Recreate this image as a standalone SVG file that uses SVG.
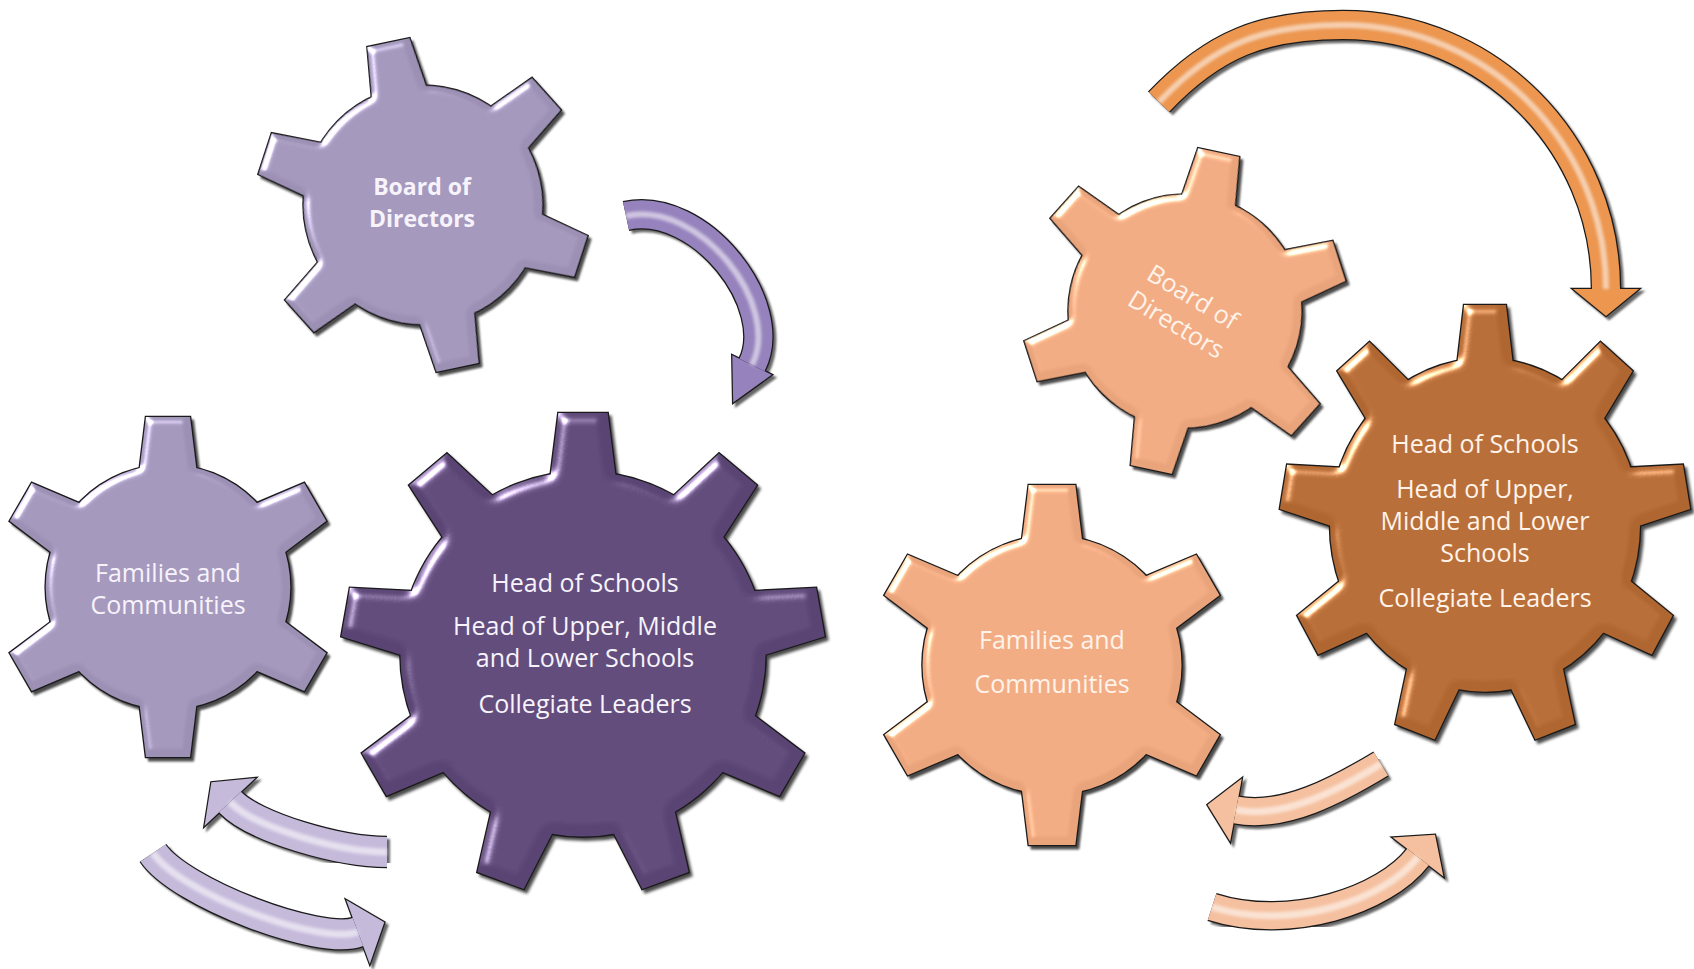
<svg xmlns="http://www.w3.org/2000/svg" width="1694" height="969" viewBox="0 0 1694 969">
  <style>
    text { font-family: "Open Sans", "Noto Sans", "DejaVu Sans", sans-serif; text-anchor: middle; font-size: 25px; }
    .lbl-p { fill: #F7F3FB; }
    .lbl-o { fill: #FFF3EA; }
    .bold { font-weight: 700; font-size: 23px; }
    .g-sh { fill: #000; stroke: #000; stroke-width: 2; opacity: .7; }
    .g-edge { fill: #1a1a1a; stroke: #1a1a1a; stroke-width: 2.6; }
    .g-lilac { fill: #9D90B5; stroke: none; }
    .g-plum { fill: #5A4474; stroke: none; }
    .g-peach { fill: #EAA47C; stroke: none; }
    .g-copper { fill: #B06630; stroke: none; }
    .a-sh { fill: #000; stroke: #000; opacity: .6; }
    .a-edge { fill: #1a1a1a; stroke: #1a1a1a; }
    .a-violet { fill: #9682BD; stroke: #9682BD; }
    .a-mist { fill: #C6BADB; stroke: #C6BADB; }
    .a-amber { fill: #EC9650; stroke: #EC9650; }
    .a-blush { fill: #F5C09F; stroke: #F5C09F; }
    .a-glint { fill: none; stroke: #fff; opacity: .55; }
  </style>
  <defs>
    <filter id="bevel" x="-8%" y="-8%" width="116%" height="116%" color-interpolation-filters="sRGB">
      <feGaussianBlur in="SourceAlpha" stdDeviation="3" result="blur"/>
      <feSpecularLighting in="blur" surfaceScale="3.5" specularConstant="1.1" specularExponent="28" lighting-color="#ffffff" result="spec">
        <feDistantLight azimuth="225" elevation="35"/>
      </feSpecularLighting>
      <feComposite in="spec" in2="SourceAlpha" operator="in" result="specIn"/>
      <feComposite in="SourceGraphic" in2="specIn" operator="arithmetic" k1="0" k2="1" k3="0.9" k4="0"/>
    </filter>
    <filter id="soft" filterUnits="userSpaceOnUse" x="0" y="0" width="1694" height="969">
      <feGaussianBlur stdDeviation="1.5"/>
    </filter>
    <filter id="haze" x="-10%" y="-10%" width="120%" height="120%">
      <feGaussianBlur stdDeviation="1"/>
    </filter>

    <!-- six-tooth gear, body radius 100 -->
    <path id="tooth6" vector-effect="non-scaling-stroke" d="M-23.5 -94 L-18 -139 L18 -139 L23.5 -94 Z"/>
    <g id="gear6">
      <circle r="100" vector-effect="non-scaling-stroke"/>
      <use href="#tooth6"/>
      <use href="#tooth6" transform="rotate(60)"/>
      <use href="#tooth6" transform="rotate(120)"/>
      <use href="#tooth6" transform="rotate(180)"/>
      <use href="#tooth6" transform="rotate(240)"/>
      <use href="#tooth6" transform="rotate(300)"/>
    </g>

    <!-- nine-tooth gear, body radius 100 -->
    <path id="tooth9" vector-effect="non-scaling-stroke" d="M-18 -96 L-13.5 -132 L13.5 -132 L18 -96 Z"/>
    <g id="gear9">
      <circle r="100" vector-effect="non-scaling-stroke"/>
      <use href="#tooth9"/>
      <use href="#tooth9" transform="rotate(40)"/>
      <use href="#tooth9" transform="rotate(80)"/>
      <use href="#tooth9" transform="rotate(120)"/>
      <use href="#tooth9" transform="rotate(160)"/>
      <use href="#tooth9" transform="rotate(200)"/>
      <use href="#tooth9" transform="rotate(240)"/>
      <use href="#tooth9" transform="rotate(280)"/>
      <use href="#tooth9" transform="rotate(320)"/>
    </g>

    <!-- curved block arrows: centre line of the shaft + arrow head -->
    <path id="pA" fill="none" d="M626 216 C700 200 782 305 752 365"/>
    <polygon id="hA" points="771.7,374.8 733.2,402.5 732.3,355.2"/>
    <path id="pB" fill="none" d="M387 852 C340 852 254 827.5 230 802"/>
    <polygon id="hB" points="255.5,778 211.4,782.3 204.5,826"/>
    <path id="pC" fill="none" d="M153 853 C180 893 320 946 358 932"/>
    <polygon id="hC" points="369.8,963.9 384.3,922.3 346.2,900.1"/>
    <path id="pD" fill="none" d="M1159 102 C1214 44 1263 25 1343 25 C1488 25 1606 143 1606 289"/>
    <polygon id="hD" points="1573,289 1606,316 1639,289"/>
    <path id="pE" fill="none" d="M1381 764 C1338 790 1285 819 1236 810"/>
    <polygon id="hE" points="1241.8,778.5 1207.5,804.8 1230.2,841.5"/>
    <path id="pF" fill="none" d="M1212 907 C1290 932 1385 900 1418 857"/>
    <polygon id="hF" points="1443.4,876.5 1435,834.8 1392.6,837.5"/>
  </defs>

  <rect width="1694" height="969" fill="#ffffff"/>

  <!-- left cluster -->
  <g id="node-board-left" transform="translate(423 205)">
    <use href="#gear6" class="g-sh" filter="url(#haze)" transform="translate(3 3.5) rotate(-12) scale(1.194)"/>
    <use href="#gear6" class="g-edge" transform="rotate(-12) scale(1.194)"/>
    <use href="#gear6" class="g-lilac" filter="url(#bevel)" transform="rotate(-12) scale(1.194)"/>
    <text class="lbl-p bold" x="-1" y="-10">Board of</text>
    <text class="lbl-p bold" x="-1" y="22">Directors</text>
  </g>

  <g id="node-families-left" transform="translate(168 587)">
    <use href="#gear6" class="g-sh" filter="url(#haze)" transform="translate(3 3.5) scale(1.223)"/>
    <use href="#gear6" class="g-edge" transform="scale(1.223)"/>
    <use href="#gear6" class="g-lilac" filter="url(#bevel)" transform="scale(1.223)"/>
    <text class="lbl-p" x="0" y="-5">Families and</text>
    <text class="lbl-p" x="0" y="27">Communities</text>
  </g>

  <g id="node-heads-left" transform="translate(583 654)">
    <use href="#gear9" class="g-sh" filter="url(#haze)" transform="translate(3 3.5) scale(1.826)"/>
    <use href="#gear9" class="g-edge" transform="scale(1.826)"/>
    <use href="#gear9" class="g-plum" filter="url(#bevel)" transform="scale(1.826)"/>
    <text class="lbl-p" x="2" y="-62">Head of Schools</text>
    <text class="lbl-p" x="2" y="-19">Head of Upper, Middle</text>
    <text class="lbl-p" x="2" y="13">and Lower Schools</text>
    <text class="lbl-p" x="2" y="59">Collegiate Leaders</text>
  </g>

  <!-- right cluster -->
  <g id="node-board-right" transform="translate(1185 311)">
    <use href="#gear6" class="g-sh" filter="url(#haze)" transform="translate(3 3.5) rotate(12) scale(1.165)"/>
    <use href="#gear6" class="g-edge" transform="rotate(12) scale(1.165)"/>
    <use href="#gear6" class="g-peach" filter="url(#bevel)" transform="rotate(12) scale(1.165)"/>
    <g transform="translate(-2 2) rotate(31)">
      <text class="lbl-o" x="0" y="-10">Board of</text>
      <text class="lbl-o" x="0" y="22">Directors</text>
    </g>
  </g>

  <g id="node-families-right" transform="translate(1052 665)">
    <use href="#gear6" class="g-sh" filter="url(#haze)" transform="translate(3 3.5) scale(1.295)"/>
    <use href="#gear6" class="g-edge" transform="scale(1.295)"/>
    <use href="#gear6" class="g-peach" filter="url(#bevel)" transform="scale(1.295)"/>
    <text class="lbl-o" x="0" y="-16">Families and</text>
    <text class="lbl-o" x="0" y="28">Communities</text>
  </g>

  <g id="node-heads-right" transform="translate(1485 525)">
    <use href="#gear9" class="g-sh" filter="url(#haze)" transform="translate(3 3.5) scale(1.55 1.667)"/>
    <use href="#gear9" class="g-edge" transform="scale(1.55 1.667)"/>
    <use href="#gear9" class="g-copper" filter="url(#bevel)" transform="scale(1.55 1.667)"/>
    <text class="lbl-o" x="0" y="-72">Head of Schools</text>
    <text class="lbl-o" x="0" y="-27">Head of Upper,</text>
    <text class="lbl-o" x="0" y="5">Middle and Lower</text>
    <text class="lbl-o" x="0" y="37">Schools</text>
    <text class="lbl-o" x="0" y="82">Collegiate Leaders</text>
  </g>

  <!-- connectors -->
  <g id="connectors">
    <g id="arrow-board-to-heads-left">
      <g class="a-sh" transform="translate(3 3)" filter="url(#haze)">
        <use href="#pA" stroke-width="30"/><use href="#hA" stroke-width="2.5"/>
      </g>
      <g class="a-edge"><use href="#pA" stroke-width="30.5"/><use href="#hA" stroke-width="2.5"/></g>
      <g class="a-violet"><use href="#pA" stroke-width="28"/><use href="#hA" stroke="none"/></g>
      <use href="#pA" class="a-glint" stroke-width="6" filter="url(#soft)"/>
    </g>

    <g id="arrow-heads-to-families-left">
      <g class="a-sh" transform="translate(3 3)" filter="url(#haze)">
        <use href="#pB" stroke-width="32"/><use href="#hB" stroke-width="2.5"/>
      </g>
      <g class="a-edge"><use href="#pB" stroke-width="32.5"/><use href="#hB" stroke-width="2.5"/></g>
      <g class="a-mist"><use href="#pB" stroke-width="30"/><use href="#hB" stroke="none"/></g>
      <use href="#pB" class="a-glint" stroke-width="7" filter="url(#soft)"/>
    </g>

    <g id="arrow-families-to-heads-left">
      <g class="a-sh" transform="translate(3 3)" filter="url(#haze)">
        <use href="#pC" stroke-width="32"/><use href="#hC" stroke-width="2.5"/>
      </g>
      <g class="a-edge"><use href="#pC" stroke-width="32.5"/><use href="#hC" stroke-width="2.5"/></g>
      <g class="a-mist"><use href="#pC" stroke-width="30"/><use href="#hC" stroke="none"/></g>
      <use href="#pC" class="a-glint" stroke-width="7" filter="url(#soft)"/>
    </g>

    <g id="arrow-board-to-heads-right">
      <g class="a-sh" transform="translate(3 3)" filter="url(#haze)">
        <use href="#pD" stroke-width="30"/><use href="#hD" stroke-width="2.5"/>
      </g>
      <g class="a-edge"><use href="#pD" stroke-width="30.5"/><use href="#hD" stroke-width="2.5"/></g>
      <g class="a-amber"><use href="#pD" stroke-width="28"/><use href="#hD" stroke="none"/></g>
      <use href="#pD" class="a-glint" stroke-width="6" filter="url(#soft)"/>
    </g>

    <g id="arrow-heads-to-families-right">
      <g class="a-sh" transform="translate(3 3)" filter="url(#haze)">
        <use href="#pE" stroke-width="29"/><use href="#hE" stroke-width="2.5"/>
      </g>
      <g class="a-edge"><use href="#pE" stroke-width="29.5"/><use href="#hE" stroke-width="2.5"/></g>
      <g class="a-blush"><use href="#pE" stroke-width="27"/><use href="#hE" stroke="none"/></g>
      <use href="#pE" class="a-glint" stroke-width="7" filter="url(#soft)"/>
    </g>

    <g id="arrow-families-to-heads-right">
      <g class="a-sh" transform="translate(3 3)" filter="url(#haze)">
        <use href="#pF" stroke-width="29"/><use href="#hF" stroke-width="2.5"/>
      </g>
      <g class="a-edge"><use href="#pF" stroke-width="29.5"/><use href="#hF" stroke-width="2.5"/></g>
      <g class="a-blush"><use href="#pF" stroke-width="27"/><use href="#hF" stroke="none"/></g>
      <use href="#pF" class="a-glint" stroke-width="7" filter="url(#soft)"/>
    </g>
  </g>
</svg>
